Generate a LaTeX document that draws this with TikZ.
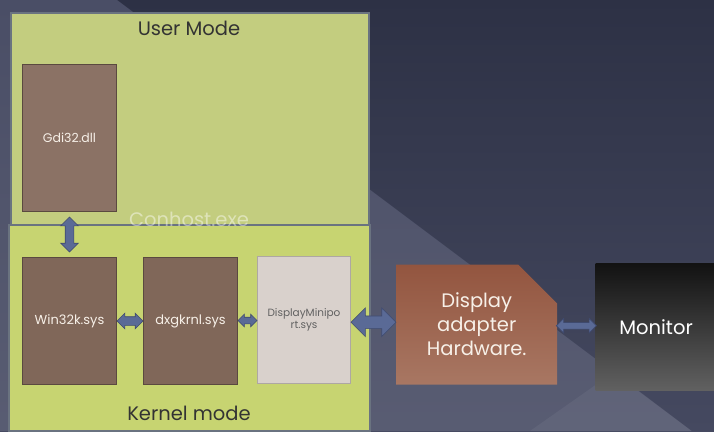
\documentclass[tikz,border=0pt]{standalone}
\usepackage{fontspec}
\setmainfont{Poppins}
\usetikzlibrary{positioning,calc,shapes.arrows,shapes.misc}
\definecolor{bg-top}{HTML}{2D3145}
\definecolor{bg-bottom}{HTML}{454960}
\definecolor{bg-light}{HTML}{4A4E66}
\definecolor{mode-border}{HTML}{6A7380}
\definecolor{user-fill}{HTML}{C3CD7F}
\definecolor{kernel-fill}{HTML}{C7D471}
\definecolor{lib-fill}{HTML}{8B7265}
\definecolor{sys-fill}{HTML}{806759}
\definecolor{lib-border}{HTML}{5A4940}
\definecolor{mini-fill}{HTML}{D9D1CC}
\definecolor{hw-top}{HTML}{93553F}
\definecolor{hw-bottom}{HTML}{A87763}
\definecolor{arrow-fill}{HTML}{5A6A96}
\definecolor{arrow-border}{HTML}{3F4A6E}
\tikzset{
    mode-box/.style = {draw=mode-border, line width=1.5pt, rectangle, anchor=north west, inner sep=0pt},
    mode-title/.style = {text=black!80, font=\fontsize{19.5}{22}\selectfont},
    lib-box/.style = {draw=lib-border, fill=lib-fill, line width=1pt, rectangle, anchor=north west, minimum width=94pt, text=white!88!brown, font=\fontsize{12.5}{14}\selectfont},
    sys-box/.style = {lib-box, fill=sys-fill, minimum height=127pt, font=\fontsize{13}{15}\selectfont},
    link-arrow/.style = {double arrow, draw=arrow-border, fill=arrow-fill, line width=0.6pt, inner xsep=0pt},
}
\begin{document}
\begin{tikzpicture}[x=1pt,y=1pt]
\useasboundingbox (0,0) rectangle (714,-431);
% background of the slide
\shade[top color=bg-top, bottom color=bg-bottom] (0,0) rectangle (714,-431);
\shade[top color=bg-light, bottom color=bg-light!92!white] (0,0) -- (117,0) -- (691.7,-431) -- (0,-431) -- cycle;
\fill[white, opacity=0.05] (530,-431) -- (614,-372) -- (691.7,-431) -- cycle;

% user mode and kernel mode
\node [mode-box, fill=user-fill, minimum width=358pt, minimum height=212pt] (user) at (10,-12) {};
\node [mode-box, fill=kernel-fill, minimum width=361pt, minimum height=206pt] (kernel) at (8,-224) {};
\node [mode-title] (usertitle) at (189,-28) {User Mode};
\node [mode-title] (kerneltitle) at (189,-413) {Kernel mode};

\node [lib-box, minimum height=147pt] (gdi) at (22,-64) {Gdi32.dll};
\node [sys-box] (win32k) at (22,-257) {Win32k.sys};
\node [sys-box, right=26pt of win32k] (dxgkrnl) {dxgkrnl.sys};
\node [sys-box, fill=mini-fill, draw=mini-fill!80!black, text=black!62, font=\fontsize{10.5}{12.5}\selectfont, minimum width=93pt, align=center, right=19pt of dxgkrnl, yshift=1pt] (miniport) {DisplayMinipo\\rt.sys};
\node [text=white, opacity=0.45, font=\fontsize{19.5}{22}\selectfont] (conhost) at (189,-219) {Conhost.exe};

% hardware
\node [chamfered rectangle, chamfered rectangle corners=north east, chamfered rectangle xsep=21pt, chamfered rectangle ysep=18pt,
       top color=hw-top, bottom color=hw-bottom, draw=none, minimum width=161pt, minimum height=120pt,
       inner sep=0pt, align=center, text=white!88!brown, font=\fontsize{19.5}{24}\selectfont,
       right=45pt of miniport, yshift=-4.5pt] (adapter) {Display\\adapter\\Hardware.};
\node [rectangle, top color=black!93, bottom color=black!62, minimum width=121pt, minimum height=127pt, inner sep=0pt,
       text=white!80, font=\fontsize{19.5}{22}\selectfont, right=38pt of adapter, yshift=-2.5pt] (monitor) {Monitor};

% links
\node [link-arrow, rotate=90, minimum height=35pt, inner ysep=4pt, double arrow head extend=4.5pt] (gdilink) at ($(gdi.south)!0.5!(win32k.north)$) {};
\node [link-arrow, minimum height=26pt, inner ysep=4pt, double arrow head extend=3.5pt] (winlink) at ($(win32k.east)!0.5!(dxgkrnl.west)$) {};
\node [link-arrow, minimum height=19pt, inner ysep=3pt, double arrow head extend=3pt] (dxglink) at ($(dxgkrnl.east)!0.5!(miniport.west)$) {};
\node [link-arrow, minimum height=45pt, inner ysep=6pt, double arrow head extend=8pt] (hwlink) at ($(miniport.east)!0.5!(adapter.west)$) {};
\node [link-arrow, minimum height=40pt, inner ysep=3pt, double arrow head extend=4pt] (monlink) at ($(adapter.east)!0.5!(monitor.west)$) {};
\end{tikzpicture}
\end{document}
